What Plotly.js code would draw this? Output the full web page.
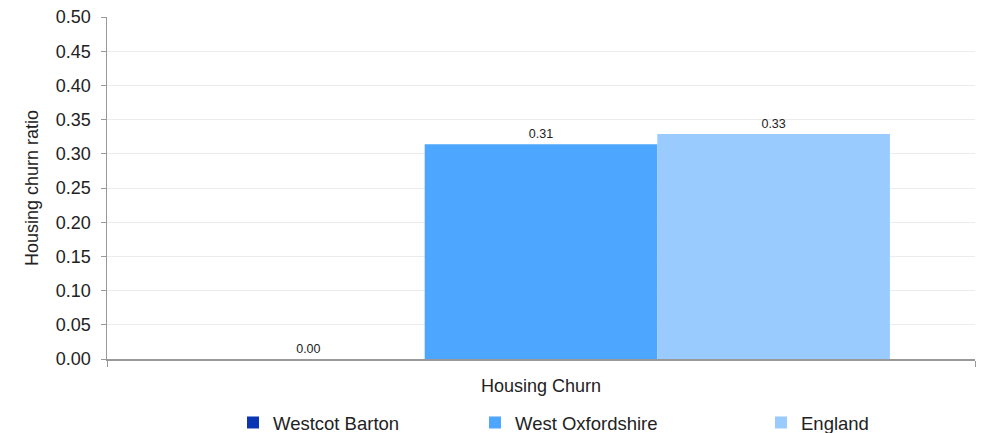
<!DOCTYPE html>
<html>
<head>
<meta charset="utf-8">
<script src="https://cdn.plot.ly/plotly-3.0.1.min.js"></script>
<style>html,body{margin:0;padding:0;background:#fff;}#chart{width:985px;height:433px;}</style>
</head>
<body>
<div id="chart"></div>
<script>
const categories = ["Housing Churn"];
const seriesNames = ["Westcot Barton", "West Oxfordshire", "England"];
const westcotBarton = [0.0];
const westOxfordshire = [0.314];
const england = [0.329];
const yTickValues = [0, 0.05, 0.1, 0.15, 0.2, 0.25, 0.3, 0.35, 0.4, 0.45, 0.5];

const colors = ["#0a36b4", "#4da6ff", "#99cbff"];
const values = [westcotBarton, westOxfordshire, england];
const legendIds = ["legend", "legend2", "legend3"];
const FONT = "Liberation Sans, Arial, sans-serif";

const traces = seriesNames.map((name, i) => ({
  type: "bar",
  name: name,
  x: categories,
  y: values[i],
  marker: {color: colors[i]},
  text: values[i].map(v => v.toFixed(2)),
  textposition: "outside",
  textfont: {size: 12.5, color: "#222", family: FONT},
  cliponaxis: false,
  legend: legendIds[i],
  hoverinfo: "skip"
}));

const legendBase = {
  orientation: "h",
  yanchor: "middle",
  y: -0.187,
  xref: "paper",
  xanchor: "left",
  font: {size: 18.5, color: "#222", family: FONT},
  bgcolor: "rgba(0,0,0,0)",
  itemwidth: 30
};

const layout = {
  width: 985,
  height: 433,
  margin: {l: 107, r: 10, t: 17, b: 74, autoexpand: false},
  paper_bgcolor: "#fff",
  plot_bgcolor: "#fff",
  font: {family: FONT, size: 18, color: "#222"},
  barmode: "group",
  bargap: 0.196,
  bargroupgap: 0,
  xaxis: {
    type: "category",
    showline: true,
    linecolor: "#999",
    linewidth: 1.5,
    ticks: "outside",
    tickson: "boundaries",
    ticklen: 6,
    tickcolor: "#999",
    showgrid: false,
    tickfont: {size: 18, color: "#222"},
    ticklabelstandoff: 10,
    range: [-0.5, 0.5],
    automargin: false,
    fixedrange: true
  },
  yaxis: {
    range: [0, 0.5],
    tickvals: yTickValues,
    tickformat: ".2f",
    showline: true,
    linecolor: "#999",
    linewidth: 1.5,
    ticks: "outside",
    ticklen: 5,
    tickcolor: "#999",
    gridcolor: "#ececec",
    gridwidth: 1,
    zeroline: false,
    tickfont: {size: 18, color: "#222"},
    ticklabelstandoff: 6,
    title: {text: "Housing churn ratio", font: {size: 18, color: "#222"}, standoff: 12},
    automargin: false,
    fixedrange: true
  },
  legend: Object.assign({}, legendBase, {x: (233 - 107) / 868}),
  legend2: Object.assign({}, legendBase, {x: (475 - 107) / 868}),
  legend3: Object.assign({}, legendBase, {x: (761 - 107) / 868}),
  showlegend: true
};

Plotly.newPlot("chart", traces, layout, {displayModeBar: false, staticPlot: true});
</script>
</body>
</html>
